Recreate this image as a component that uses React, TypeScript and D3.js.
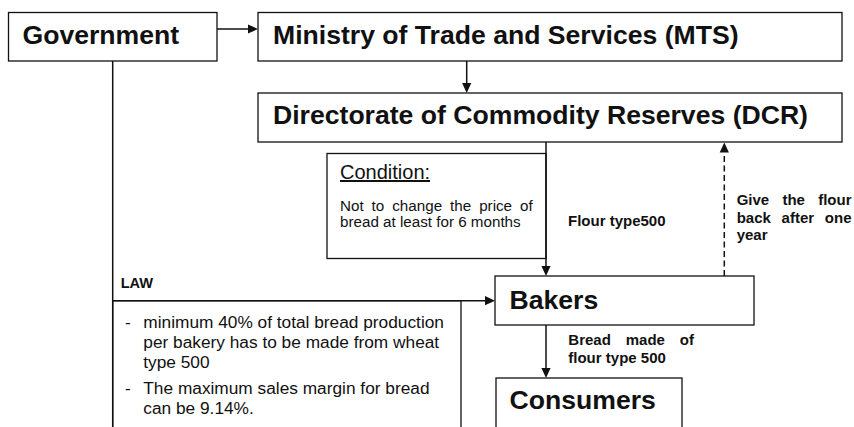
import React from 'react';
import * as d3 from 'd3';

// ---- content ----
const BOX_LABELS = [
  'Government',
  'Ministry of Trade and Services (MTS)',
  'Directorate of Commodity Reserves (DCR)',
  'Bakers',
  'Consumers',
];
const CONDITION_TITLE = 'Condition:';
const CONDITION_LINES = ['Not to change the price of', 'bread at least for 6 months'];
const FLOUR_LINES = ['Flour type500'];
const GIVE_BACK_LINES = ['Give the flour', 'back after one', 'year'];
const BREAD_LINES = ['Bread made of', 'flour type 500'];
const LAW_LABEL = 'LAW';
const LAW_ITEMS = [
  ['minimum 40% of total bread production', 'per bakery has to be made from wheat', 'type 500'],
  ['The maximum sales margin for bread', 'can be 9.14%.'],
];

// ---- layout ----
const W = 854;
const H = 427;
const FAMILY = '"Liberation Sans", Arial, Helvetica, sans-serif';
const INK = '#111';

const BOXES = [
  { x: 8.5, y: 12.5, w: 208.5, h: 48.5, tx: 22.5, ty: 44.3 },
  { x: 258, y: 12.5, w: 584, h: 48.5, tx: 273, ty: 43.6 },
  { x: 258, y: 93, w: 584, h: 49, tx: 273, ty: 123.6 },
  { x: 495, y: 276, w: 259, h: 49, tx: 509.5, ty: 308.5 },
  { x: 496, y: 378, w: 186, h: 80, tx: 509.5, ty: 408.5 },
];

let _ctx: CanvasRenderingContext2D | null = null;
function measure(text: string, font: string): number {
  if (!_ctx) {
    const c = document.createElement('canvas');
    _ctx = c.getContext('2d');
  }
  if (!_ctx) return text.length * 7;
  _ctx.font = font;
  return _ctx.measureText(text).width;
}

function justify(line: string, x0: number, x1: number, font: string) {
  const words = line.split(' ');
  if (words.length < 2) return [{ w: line, x: x0 }];
  const widths = words.map((w) => measure(w, font));
  const total = d3.sum(widths);
  const gap = (x1 - x0 - total) / (words.length - 1);
  let x = x0;
  return words.map((w, i) => {
    const r = { w, x };
    x += widths[i] + gap;
    return r;
  });
}

function Arrow({ x1, y1, x2, y2, dash }: { x1: number; y1: number; x2: number; y2: number; dash?: string }) {
  const len = 10;
  const hw = 4.6;
  const ang = Math.atan2(y2 - y1, x2 - x1);
  const bx = x2 - len * Math.cos(ang);
  const by = y2 - len * Math.sin(ang);
  const nx = -Math.sin(ang) * hw;
  const ny = Math.cos(ang) * hw;
  const p = d3.path();
  p.moveTo(x2, y2);
  p.lineTo(bx + nx, by + ny);
  p.lineTo(bx - nx, by - ny);
  p.closePath();
  return (
    <g>
      <line x1={x1} y1={y1} x2={bx} y2={by} stroke={INK} strokeWidth={1.5} strokeDasharray={dash} />
      <path d={p.toString()} fill={INK} />
    </g>
  );
}

function JustifiedBlock({ lines, x0, x1, y0, lh, font, size, weight }: any) {
  return (
    <g>
      {lines.map((line: string, i: number) => {
        const last = i === lines.length - 1;
        const parts = last ? [{ w: line, x: x0 }] : justify(line, x0, x1, font);
        return parts.map((p, j) => (
          <text key={i + '-' + j} x={p.x} y={y0 + i * lh} fontSize={size} fontWeight={weight} fontFamily={FAMILY} fill={INK}>
            {p.w}
          </text>
        ));
      })}
    </g>
  );
}

export default function App() {
  const boldSmall = `bold 15px "Liberation Sans"`;
  const regCond = `15.2px "Liberation Sans"`;
  const lawLh = 19.8;
  let lawY = 328;
  const lawRows: { t: string; y: number; bullet: boolean }[] = [];
  LAW_ITEMS.forEach((item) => {
    item.forEach((t, i) => {
      lawRows.push({ t, y: lawY, bullet: i === 0 });
      lawY += lawLh;
    });
    lawY += 7;
  });

  return (
    <svg width={W} height={H} style={{ position: 'absolute', left: 0, top: 0, background: '#fff' }}>
      <rect x={0} y={0} width={W} height={H} fill="#fff" />

      {/* boxes */}
      {BOXES.map((b, i) => (
        <g key={i}>
          <rect x={b.x} y={b.y} width={b.w} height={b.h} fill="#fff" stroke={INK} strokeWidth={1.3} />
          <text x={b.tx} y={b.ty} fontSize={26.6} fontWeight="bold" fontFamily={FAMILY} fill={INK}>
            {BOX_LABELS[i]}
          </text>
        </g>
      ))}

      {/* condition box */}
      <rect x={327} y={153.5} width={219} height={105} fill="#fff" stroke={INK} strokeWidth={1.3} />
      <text x={340} y={179} fontSize={20} fontFamily={FAMILY} fill={INK} textDecoration="underline">
        {CONDITION_TITLE}
      </text>
      <JustifiedBlock lines={CONDITION_LINES} x0={340} x1={532.7} y0={210.5} lh={16.8} font={regCond} size={15.2} weight="normal" />

      {/* law box */}
      <rect x={112.7} y={300.7} width={348.3} height={200} fill="#fff" stroke={INK} strokeWidth={1.3} />
      <text x={120.7} y={287.8} fontSize={14.6} fontWeight="bold" fontFamily={FAMILY} fill={INK}>
        {LAW_LABEL}
      </text>
      {lawRows.map((r, i) => (
        <g key={i}>
          {r.bullet && (
            <text x={125} y={r.y} fontSize={17.3} fontFamily={FAMILY} fill={INK}>
              -
            </text>
          )}
          <text x={143.3} y={r.y} fontSize={17.3} fontFamily={FAMILY} fill={INK}>
            {r.t}
          </text>
        </g>
      ))}

      {/* connectors */}
      <Arrow x1={217} y1={29} x2={258} y2={29} />
      <Arrow x1={466.7} y1={61} x2={466.7} y2={93} />
      <line x1={112.7} y1={61} x2={112.7} y2={H + 5} stroke={INK} strokeWidth={1.5} />
      <Arrow x1={112.7} y1={300.7} x2={495} y2={300.7} />
      <Arrow x1={546} y1={142} x2={546} y2={276} />
      <Arrow x1={546} y1={325} x2={546} y2={378} />
      <Arrow x1={724.3} y1={276} x2={724.3} y2={142.5} dash="6,3.5" />

      {/* edge labels */}
      <JustifiedBlock lines={FLOUR_LINES} x0={568} x1={668} y0={225.5} lh={17.5} font={boldSmall} size={15} weight="bold" />
      <JustifiedBlock lines={GIVE_BACK_LINES} x0={736.7} x1={851.5} y0={205.3} lh={17.5} font={boldSmall} size={15} weight="bold" />
      <JustifiedBlock lines={BREAD_LINES} x0={568.3} x1={694} y0={345} lh={17.5} font={boldSmall} size={15} weight="bold" />
    </svg>
  );
}
